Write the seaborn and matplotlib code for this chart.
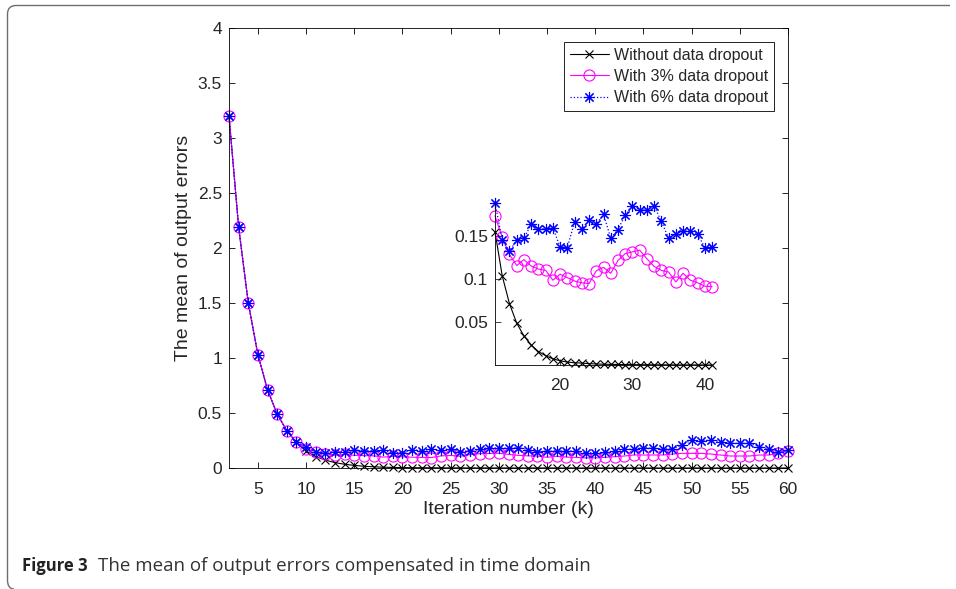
import matplotlib
matplotlib.use("Agg")
import matplotlib.pyplot as plt
import matplotlib.transforms as mtransforms
from matplotlib.path import Path
from matplotlib.patches import PathPatch
import seaborn as sns
import pandas as pd

# ---------------- data ----------------
iterations = list(range(2, 61))

head_no = [3.2, 2.19, 1.5, 1.03, 0.71, 0.49, 0.338, 0.232]          # k = 2..9
head_3 = [3.2, 2.19, 1.5, 1.03, 0.71, 0.49, 0.338, 0.234]
head_6 = [3.2, 2.19, 1.5, 1.03, 0.71, 0.49, 0.338, 0.238]

mid_no = [0.1555, 0.104, 0.0716, 0.049, 0.034, 0.0235, 0.0158, 0.011, 0.0073, 0.005,
          0.0035, 0.0027, 0.0023, 0.0017, 0.0013, 0.0010, 0.0008, 0.0007, 0.0006, 0.0005,
          0.0004, 0.0004, 0.0003, 0.0003, 0.0003, 0.0002, 0.0002, 0.0002, 0.0002, 0.0001,
          0.0001]                                                    # k = 10..40
mid_3 = [0.174, 0.149, 0.129, 0.116, 0.123, 0.1155, 0.112, 0.1105, 0.099, 0.106,
         0.102, 0.098, 0.096, 0.095, 0.110, 0.114, 0.107, 0.122, 0.130, 0.132,
         0.134, 0.124, 0.115, 0.1105, 0.1085, 0.097, 0.107, 0.099, 0.096, 0.092,
         0.0915]
mid_6 = [0.189, 0.1455, 0.133, 0.1455, 0.148, 0.164, 0.159, 0.159, 0.160, 0.138,
         0.137, 0.167, 0.159, 0.169, 0.164, 0.176, 0.148, 0.158, 0.175, 0.185,
         0.181, 0.181, 0.186, 0.1675, 0.148, 0.153, 0.156, 0.156, 0.153, 0.137,
         0.138]

tail_no = [0.0001] * 20                                              # k = 41..60
tail_3 = [0.097, 0.103, 0.109, 0.118, 0.118, 0.118, 0.118, 0.127, 0.133, 0.133,
          0.133, 0.127, 0.118, 0.109, 0.109, 0.109, 0.118, 0.118, 0.133, 0.158]
tail_6 = [0.142, 0.155, 0.170, 0.170, 0.185, 0.179, 0.173, 0.173, 0.209, 0.255,
          0.245, 0.255, 0.239, 0.224, 0.224, 0.224, 0.194, 0.173, 0.148, 0.164]

no_dropout = head_no + mid_no + tail_no
dropout_3 = head_3 + mid_3 + tail_3
dropout_6 = head_6 + mid_6 + tail_6

inset_iterations = list(range(11, 42))

series_labels = ["Without data dropout", "With 3% data dropout", "With 6% data dropout"]

x_ticks = [5, 10, 15, 20, 25, 30, 35, 40, 45, 50, 55, 60]
y_ticks = [0, 0.5, 1, 1.5, 2, 2.5, 3, 3.5, 4]
y_tick_labels = ["0", "0.5", "1", "1.5", "2", "2.5", "3", "3.5", "4"]
inset_x_ticks = [20, 30, 40]
inset_y_ticks = [0.05, 0.1, 0.15]
inset_y_tick_labels = ["0.05", "0.1", "0.15"]

x_label = "Iteration number (k)"
y_label = "The mean of output errors"
caption_bold = "Figure 3"
caption_text = "The mean of output errors compensated in time domain"

# ---------------- style ----------------
sns.set_style("ticks")
plt.rcParams["font.family"] = ["Liberation Sans", "DejaVu Sans"]
plt.rcParams["xtick.direction"] = "in"
plt.rcParams["ytick.direction"] = "in"

W, H = 956, 589
fig = plt.figure(figsize=(W / 100, H / 100), dpi=100)

def fx(px):
    return px / W

def fy(py):
    return 1 - py / H

# main axes
ax = fig.add_axes([fx(229), fy(468), fx(788) - fx(229), fy(28) - fy(468)])

df = pd.DataFrame({"k": iterations, "no": no_dropout, "d3": dropout_3, "d6": dropout_6})

asterisk = (8, 2, 0)
styles = [
    dict(color="black", marker="x", linestyle="-", linewidth=0.8, markersize=5.5,
         markeredgewidth=0.8, markeredgecolor="black", markerfacecolor="none"),
    dict(color="#FF00FF", marker="o", linestyle="-", linewidth=0.8, markersize=8,
         markerfacecolor="none", markeredgewidth=0.8, markeredgecolor="#FF00FF"),
    dict(color="#0000FF", marker=asterisk, linestyle=":", linewidth=0.9, markersize=8,
         markeredgewidth=0.8, markeredgecolor="#0000FF", markerfacecolor="none"),
]
cols = ["no", "d3", "d6"]
for c, lab, st in zip(cols, series_labels, styles):
    sns.lineplot(data=df, x="k", y=c, ax=ax, label=lab, estimator=None, sort=False,
                 clip_on=False, **st)

ax.set_xlim(2, 60)
ax.set_ylim(0, 4)
ax.set_xticks(x_ticks)
ax.set_xticklabels([str(t) for t in x_ticks])
ax.set_yticks(y_ticks)
ax.set_yticklabels(y_tick_labels)
ax.tick_params(axis="both", which="both", direction="in", length=4, width=0.6,
               top=True, right=True, labelsize=12.5, color="black")
ax.tick_params(axis="x", pad=10)
ax.tick_params(axis="y", pad=5)
for s in ax.spines.values():
    s.set_visible(True)
    s.set_linewidth(0.6)
    s.set_color("black")
ax.set_xlabel(x_label, fontsize=14, labelpad=3)
ax.set_ylabel(y_label, fontsize=14, labelpad=4)

leg = ax.legend(loc="upper right", fontsize=11.5, frameon=True, fancybox=False,
                edgecolor="black", framealpha=1, borderaxespad=0.9, handlelength=2.45,
                handletextpad=0.3, labelspacing=0.38, borderpad=0.35)
leg.get_frame().set_linewidth(0.6)

# inset axes
axi = fig.add_axes([fx(495), fy(365), fx(712) - fx(495), fy(203) - fy(365)])
dfi = pd.DataFrame({"k": inset_iterations, "no": mid_no, "d3": mid_3, "d6": mid_6})
for c, st in zip(cols, styles):
    sns.lineplot(data=dfi, x="k", y=c, ax=axi, estimator=None, sort=False, legend=False,
                 clip_on=False, **st)
axi.set_xlim(min(inset_iterations), max(inset_iterations))
axi.set_ylim(min(mid_no), max(mid_6))
axi.set_xticks(inset_x_ticks)
axi.set_xticklabels([str(t) for t in inset_x_ticks])
axi.set_yticks(inset_y_ticks)
axi.set_yticklabels(inset_y_tick_labels)
axi.tick_params(axis="both", direction="in", length=4, width=0.6, labelsize=12.5)
axi.tick_params(axis="x", pad=9)
axi.tick_params(axis="y", pad=5)
axi.spines["top"].set_visible(False)
axi.spines["right"].set_visible(False)
for s in ["left", "bottom"]:
    axi.spines[s].set_linewidth(0.6)
    axi.spines[s].set_color("black")
axi.set_xlabel("")
axi.set_ylabel("")
axi.patch.set_alpha(0)

# frame with rounded corners
pix = mtransforms.Affine2D().scale(1 / W, -1 / H).translate(0, 1) + fig.transFigure
verts = [(950, 5.5), (16, 5.5), (7.5, 5.5), (7.5, 14), (7.5, 580), (7.5, 589), (14, 589)]
codes = [Path.MOVETO, Path.LINETO, Path.CURVE3, Path.CURVE3, Path.LINETO, Path.CURVE3, Path.CURVE3]
fig.add_artist(PathPatch(Path(verts, codes), transform=pix, facecolor="none",
                         edgecolor="#6e6e6e", linewidth=1.0))

# caption
fig.text(fx(22), fy(566), caption_bold, fontsize=12, fontweight="bold",
         family=["Open Sans", "DejaVu Sans"], va="center", ha="left", color="#222222")
fig.text(fx(98), fy(566), caption_text, fontsize=13.5,
         family=["Open Sans", "DejaVu Sans"], va="center", ha="left", color="#333333")

fig.savefig("out.png", dpi=100)
